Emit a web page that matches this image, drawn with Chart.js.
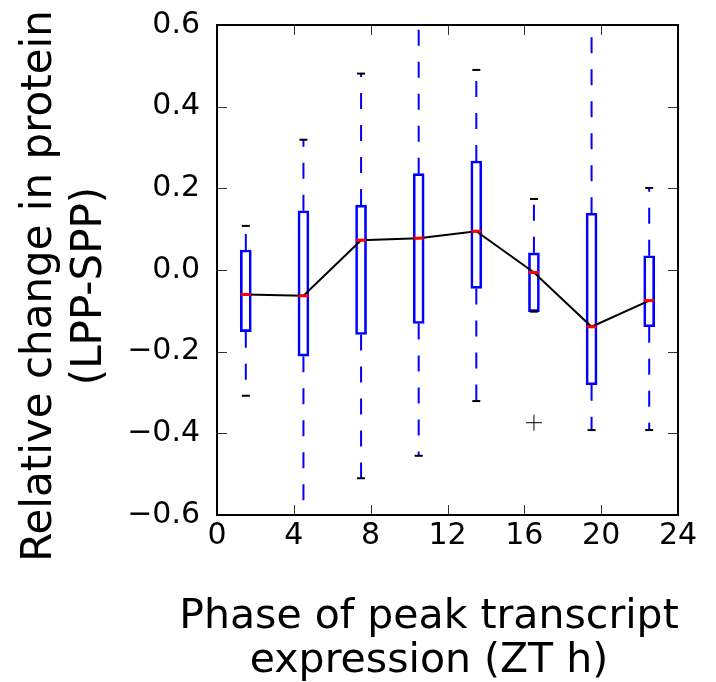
<!DOCTYPE html>
<html>
<head>
<meta charset="utf-8">
<script src="https://cdn.jsdelivr.net/npm/chart.js@4.4.1/dist/chart.umd.min.js"></script>
<style>
  html, body { margin: 0; padding: 0; background: #fff; }
  #wrap { width: 716px; height: 682px; }
</style>
</head>
<body>
<div id="wrap"><canvas id="phaseChart" width="716" height="682"></canvas></div>
<script>
// phase bins (ZT h, bin centres)
const phases = [1.5, 4.5, 7.5, 10.5, 13.5, 16.5, 19.5, 22.5];
// box statistics per bin
const medians = [-0.060, -0.063, 0.073, 0.078, 0.095, -0.006, -0.139, -0.075];
const q1 = [-0.151, -0.211, -0.158, -0.131, -0.045, -0.102, -0.281, -0.139];
const q3 = [0.049, 0.145, 0.159, 0.236, 0.267, 0.042, 0.139, 0.035];
const whiskerLow = [-0.308, -0.63, -0.510, -0.455, -0.321, -0.102, -0.392, -0.392];
const whiskerHigh = [0.108, 0.319, 0.481, 0.63, 0.490, 0.174, 0.62, 0.201];
// flier points
const outlierX = [16.5];
const outlierY = [-0.374];

const xTicks = [0, 4, 8, 12, 16, 20, 24];
const yMin = -0.6, yMax = 0.6, yStep = 0.2;

const FONT = "'DejaVu Sans', 'Liberation Sans', sans-serif";
const BLUE = "#0000ff";

// whisker segments, split by nulls so each bin gets its own dashed line
function whiskerPoints(from, to) {
  const pts = [];
  phases.forEach((x, i) => {
    pts.push({ x: x, y: from[i] });
    pts.push({ x: x, y: to[i] });
    pts.push({ x: x, y: null });
  });
  return pts;
}

// frame + inward tick marks on all four sides, like a classic matplotlib axes
const frameTicks = {
  id: "frameTicks",
  afterDatasetsDraw(chart) {
    const { ctx, chartArea: a, scales } = chart;
    const len = 10;
    ctx.save();
    ctx.strokeStyle = "#333";
    ctx.lineWidth = 1;
    ctx.beginPath();
    scales.x.ticks.forEach(t => {
      const px = Math.round(scales.x.getPixelForValue(t.value)) + 0.5;
      ctx.moveTo(px, a.bottom); ctx.lineTo(px, a.bottom - len);
      ctx.moveTo(px, a.top); ctx.lineTo(px, a.top + len);
    });
    scales.y.ticks.forEach(t => {
      const py = Math.round(scales.y.getPixelForValue(t.value)) + 0.5;
      ctx.moveTo(a.left, py); ctx.lineTo(a.left + len, py);
      ctx.moveTo(a.right, py); ctx.lineTo(a.right - len, py);
    });
    ctx.stroke();
    ctx.strokeStyle = "#000";
    ctx.lineWidth = 2;
    ctx.strokeRect(a.left, a.top, a.right - a.left, a.bottom - a.top);
    ctx.restore();
  }
};

// two-line axis titles
const axisTitles = {
  id: "axisTitles",
  afterDraw(chart) {
    const ctx = chart.ctx;
    ctx.save();
    ctx.fillStyle = "#000";
    ctx.font = "41px " + FONT;
    ctx.textAlign = "center";
    ctx.textBaseline = "alphabetic";
    ctx.fillText("Phase of peak transcript", 429, 628);
    ctx.fillText("expression (ZT h)", 429, 672);
    ctx.translate(0, 286);
    ctx.rotate(-Math.PI / 2);
    ctx.font = "42px " + FONT;
    ctx.fillText("Relative change in protein", 0, 51);
    ctx.fillText("(LPP-SPP)", 0, 101);
    ctx.restore();
  }
};

const ctx = document.getElementById("phaseChart").getContext("2d");

new Chart(ctx, {
  data: {
    datasets: [
      {
        type: "scatter",
        label: "median",
        data: phases.map((x, i) => ({ x: x, y: medians[i] })),
        pointStyle: "line",
        pointRadius: 5,
        pointBorderWidth: 3,
        borderColor: "#ff0000",
        order: 0
      },
      {
        type: "line",
        label: "median trend",
        data: phases.map((x, i) => ({ x: x, y: medians[i] })),
        borderColor: "#000",
        borderWidth: 2,
        pointRadius: 0,
        tension: 0,
        order: 1
      },
      {
        type: "scatter",
        label: "caps",
        data: phases.map((x, i) => ({ x: x, y: whiskerHigh[i] }))
          .concat(phases.map((x, i) => ({ x: x, y: whiskerLow[i] }))),
        pointStyle: "line",
        pointRadius: 4,
        pointBorderWidth: 2,
        borderColor: "#000",
        order: 2
      },
      {
        type: "scatter",
        label: "outliers",
        data: outlierX.map((x, i) => ({ x: x, y: outlierY[i] })),
        pointStyle: "cross",
        pointRadius: 8,
        pointBorderWidth: 1,
        borderColor: "#000",
        order: 2
      },
      {
        type: "bar",
        label: "IQR",
        data: phases.map((x, i) => ({ x: x, y: [q1[i], q3[i]] })),
        backgroundColor: "rgba(0,0,0,0)",
        borderColor: BLUE,
        borderWidth: 2,
        borderSkipped: false,
        barThickness: 11,
        grouped: false,
        order: 3
      },
      {
        type: "line",
        label: "upper whisker",
        data: whiskerPoints(q3, whiskerHigh),
        borderColor: BLUE,
        borderWidth: 2,
        borderDash: [16, 16],
        borderCapStyle: "butt",
        pointRadius: 0,
        spanGaps: false,
        order: 4
      },
      {
        type: "line",
        label: "lower whisker",
        data: whiskerPoints(q1, whiskerLow),
        borderColor: BLUE,
        borderWidth: 2,
        borderDash: [16, 16],
        borderCapStyle: "butt",
        pointRadius: 0,
        spanGaps: false,
        order: 4
      }
    ]
  },
  options: {
    responsive: false,
    animation: false,
    layout: { padding: { top: 25, right: 38, left: 0, bottom: 0 } },
    plugins: {
      legend: { display: false },
      tooltip: { enabled: false }
    },
    scales: {
      x: {
        type: "linear",
        min: 0,
        max: 24,
        offset: false,
        afterFit: scale => {
          scale.height = 167;
          scale.paddingLeft = 0;
          scale.paddingRight = 0;
        },
        afterBuildTicks: scale => { scale.ticks = xTicks.map(v => ({ value: v })); },
        grid: { display: false },
        border: { display: false },
        ticks: {
          color: "#000",
          padding: -5,
          font: { family: FONT, size: 30 },
          maxRotation: 0,
          callback: v => String(v)
        }
      },
      y: {
        type: "linear",
        min: yMin,
        max: yMax,
        afterFit: scale => {
          scale.width = 217;
          scale.paddingTop = 0;
          scale.paddingBottom = 0;
        },
        grid: { display: false },
        border: { display: false },
        ticks: {
          color: "#000",
          padding: 9,
          stepSize: yStep,
          font: { family: FONT, size: 30 },
          callback: v => {
            const s = Math.abs(v) < 1e-9 ? "0.0" : v.toFixed(1);
            return s.replace("-", "\u2212");
          }
        }
      }
    }
  },
  plugins: [frameTicks, axisTitles]
});
</script>
</body>
</html>
